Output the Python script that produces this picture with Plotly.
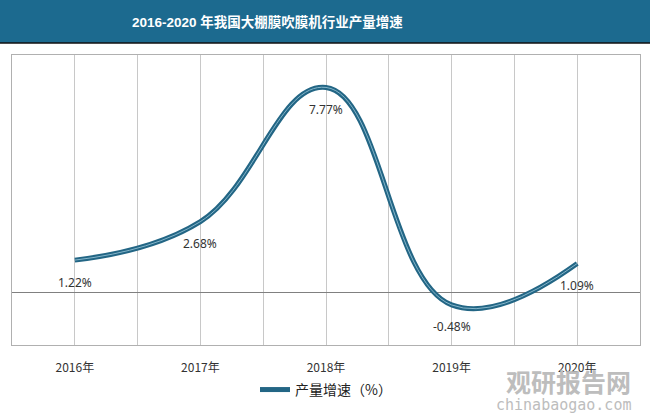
import plotly.graph_objects as go

years = ["2016年", "2017年", "2018年", "2019年", "2020年"]
growth = [1.22, 2.68, 7.77, -0.48, 1.09]
labels = ["1.22%", "2.68%", "7.77%", "-0.48%", "1.09%"]
series_name = "产量增速（%）"
title = "2016-2020 年我国大棚膜吹膜机行业产量增速"

xs = list(range(len(years)))
font = "Noto Sans CJK SC, Noto Sans, sans-serif"

fig = go.Figure()
fig.add_trace(go.Scatter(
    x=xs, y=growth, mode="lines", name=series_name,
    line=dict(color="#236685", width=5, shape="spline", smoothing=1.2),
    showlegend=True,
))
fig.add_trace(go.Scatter(
    x=xs, y=growth, mode="lines", hoverinfo="skip",
    line=dict(color="#85b6cb", width=1, shape="spline", smoothing=1.2),
    showlegend=False,
))

annotations = [
    dict(text="<b>" + title + "</b>", xref="paper", yref="paper",
         x=(130 - 12) / 628, y=1.0 + (55 - 22) / 290, xanchor="left", yanchor="middle",
         showarrow=False, font=dict(size=13.5, color="white",
                                    family="Liberation Sans, Arial, Noto Sans CJK SC")),
    dict(text="<b>观研报告网</b>", xref="paper", yref="paper",
         x=(633 - 12) / 628, y=-(381 - 345) / 290, xanchor="right", yanchor="middle",
         showarrow=False, font=dict(size=25, color="#bdbdbd", family=font)),
    dict(text="chinabaogao.com", xref="paper", yref="paper",
         x=(633 - 12) / 628, y=-(405 - 345) / 290, xanchor="right", yanchor="middle",
         showarrow=False, font=dict(size=15, color="#bdbdbd", family="DejaVu Sans Mono")),
]
for xi, yi, lab in zip(xs, growth, labels):
    annotations.append(dict(
        x=xi, y=yi, xref="x", yref="y", text=lab, showarrow=False,
        yshift=-22, xanchor="center", yanchor="middle",
        font=dict(size=12, color="#333333", family="Noto Sans, DejaVu Sans, sans-serif"),
    ))

fig.update_layout(
    width=650, height=417,
    margin=dict(l=12, r=10, t=55, b=72),
    paper_bgcolor="white", plot_bgcolor="white",
    font=dict(family=font, size=12, color="#333333"),
    showlegend=True,
    legend=dict(orientation="h", x=0.5, xanchor="center", y=-0.155, yanchor="middle",
                font=dict(size=14, color="#222222")),
    shapes=[
        dict(type="rect", xref="paper", yref="paper", x0=-0.05, x1=1.05,
             y0=1.0 + (55 - 43) / 290, y1=1.0 + 55 / 290,
             fillcolor="#1c6a8f", line=dict(width=0), layer="below"),
        dict(type="line", xref="paper", yref="paper", x0=-0.05, x1=1.05,
             y0=1.0 + (55 - 43) / 290, y1=1.0 + (55 - 43) / 290,
             line=dict(color="#111111", width=1.5)),
    ],
    annotations=annotations,
)

fig.update_xaxes(
    range=[-0.5, len(years) - 0.5], tickvals=xs, ticktext=years,
    showgrid=True, gridcolor="#c8c8c8", gridwidth=1,
    minor=dict(tickvals=[i + 0.5 for i in range(-1, len(years))], showgrid=True,
               gridcolor="#c8c8c8", gridwidth=1),
    showline=True, linecolor="#b0b0b0", mirror=True, zeroline=False,
    ticks="", tickfont=dict(size=12, color="#333333"), ticklabelstandoff=12,
)
fig.update_yaxes(
    range=[-2, 9], showticklabels=False, showgrid=False,
    zeroline=True, zerolinecolor="#808080", zerolinewidth=1,
    showline=True, linecolor="#b0b0b0", mirror=True,
)

fig.write_html("out.html")
